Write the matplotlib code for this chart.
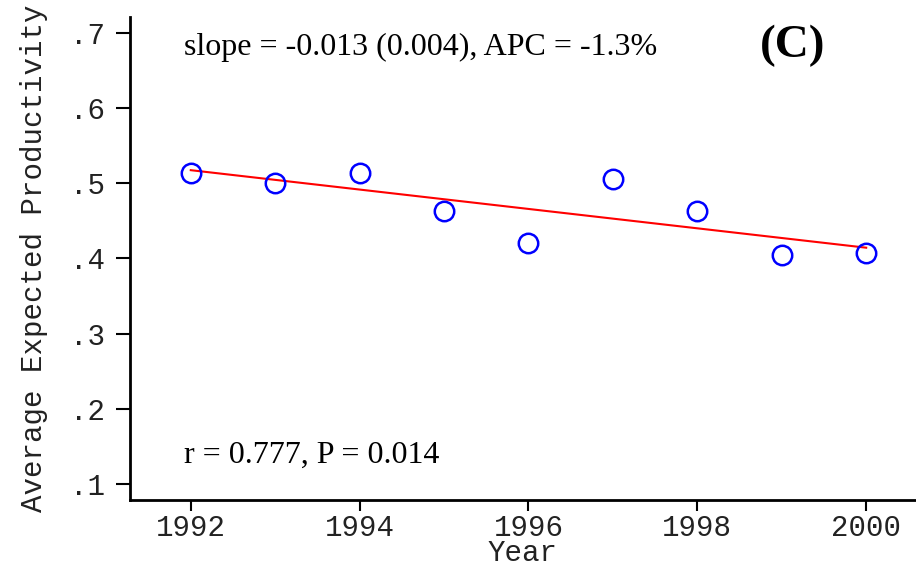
import matplotlib
matplotlib.use("Agg")
import matplotlib.pyplot as plt
import numpy as np

# values
years = np.array([1992, 1993, 1994, 1995, 1996, 1997, 1998, 1999, 2000])
productivity = np.array([0.514, 0.500, 0.514, 0.463, 0.420, 0.505, 0.463, 0.405, 0.407])
yticks = [0.1, 0.2, 0.3, 0.4, 0.5, 0.6, 0.7]
ytick_labels = ['.1', '.2', '.3', '.4', '.5', '.6', '.7']
xticks = [1992, 1994, 1996, 1998, 2000]

# linear fit
b1, b0 = np.polyfit(years, productivity, 1)
fit = b0 + b1 * years

mono = 'Liberation Mono'
serif = 'Liberation Serif'

fig = plt.figure(figsize=(9.16, 5.67), dpi=100)
ax = fig.add_axes([0.1419, 0.1182, 0.8581, 0.852])

ax.plot(years, fit, color='red', lw=1.5, zorder=2)
ax.plot(years, productivity, 'o', ms=14, mfc='none', mec='blue', mew=1.8, zorder=3)

ax.set_xlim(1991.28, 2000.59)
ax.set_ylim(0.0787, 0.721)
ax.set_xticks(xticks)
ax.set_xticklabels([str(x) for x in xticks], family=mono, fontsize=21, color='#222222')
ax.set_yticks(yticks)
ax.set_yticklabels(ytick_labels, family=mono, fontsize=21, color='#222222')
ax.tick_params(axis='y', length=10, width=1.5, pad=8)
ax.tick_params(axis='x', length=8, width=1.5, pad=2)

for side in ['top', 'right']:
    ax.spines[side].set_visible(False)
for side in ['left', 'bottom']:
    ax.spines[side].set_linewidth(2)

ax.set_xlabel('Year', family=mono, fontsize=21, labelpad=-2, color='#222222')
ax.set_ylabel('Average Expected Productivity', family=mono, fontsize=21, labelpad=16, color='#222222')

ax.text(1991.92, 0.670, 'slope = -0.013 (0.004), APC = -1.3%',
        family=serif, fontsize=23, va='baseline', ha='left')
ax.text(1991.92, 0.1286, 'r = 0.777, P = 0.014',
        family=serif, fontsize=23, va='baseline', ha='left')
ax.text(1999.13, 0.667, '(C)',
        family=serif, fontsize=34, fontweight='bold', va='baseline', ha='center')

fig.savefig('out.png', dpi=100)
